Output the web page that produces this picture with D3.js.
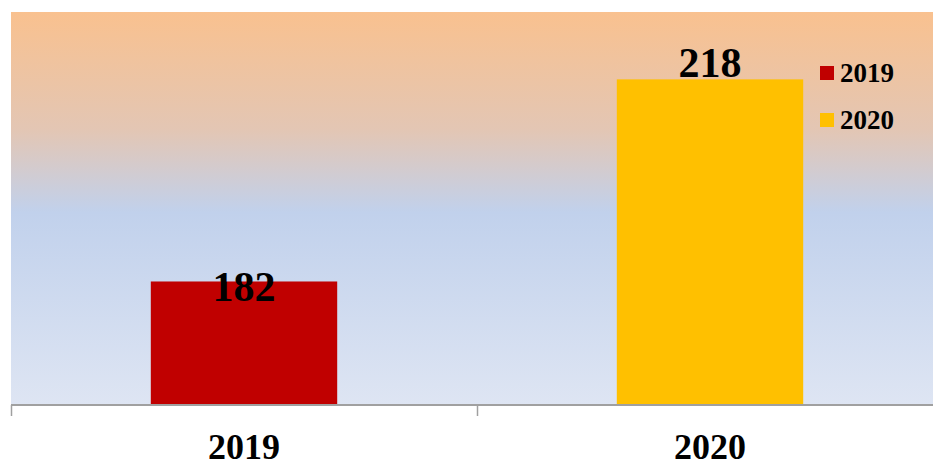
<!DOCTYPE html>
<html>
<head>
<meta charset="utf-8">
<script src="https://cdn.jsdelivr.net/npm/d3@7"></script>
<style>
  html, body { margin: 0; padding: 0; background: #fff; }
  svg { display: block; font-family: "Liberation Serif", "Times New Roman", serif; font-weight: bold; }
</style>
</head>
<body>
<div id="chart"></div>
<script>
const categories = ['2019', '2020'];
const values = [182, 218];
const seriesColors = ['#C00000', '#FFC000'];
const yDomain = [160, 230];

const width = 933, height = 461;
const plot = { left: 11, top: 12, right: 943, bottom: 405 };

const svg = d3.select('#chart').append('svg')
  .attr('width', width)
  .attr('height', height);

// background gradient of the plot area
const grad = svg.append('defs').append('linearGradient')
  .attr('id', 'bg')
  .attr('x1', 0).attr('y1', 0).attr('x2', 0).attr('y2', 1);
grad.append('stop').attr('offset', '0%').attr('stop-color', '#F9C18F');
grad.append('stop').attr('offset', '30%').attr('stop-color', '#E3C6B4');
grad.append('stop').attr('offset', '51%').attr('stop-color', '#C1D1EC');
grad.append('stop').attr('offset', '100%').attr('stop-color', '#DEE5F3');

svg.append('rect')
  .attr('x', plot.left)
  .attr('y', plot.top)
  .attr('width', width - plot.left)
  .attr('height', plot.bottom - plot.top)
  .attr('fill', 'url(#bg)');

const x = d3.scaleBand()
  .domain(categories)
  .range([plot.left, plot.right])
  .padding(0);

const y = d3.scaleLinear()
  .domain(yDomain)
  .range([plot.bottom, plot.top]);

const barW = x.bandwidth() * 0.4;

svg.selectAll('.bar')
  .data(values)
  .enter()
  .append('rect')
  .attr('class', 'bar')
  .attr('x', (d, i) => x(categories[i]) + (x.bandwidth() - barW) / 2)
  .attr('y', d => y(d))
  .attr('width', barW)
  .attr('height', d => y(yDomain[0]) - y(d))
  .attr('fill', (d, i) => seriesColors[i]);

// data labels (Excel put the first one inside the bar top)
const labelDy = [20, -2];
svg.selectAll('.val')
  .data(values)
  .enter()
  .append('text')
  .attr('class', 'val')
  .attr('x', (d, i) => x(categories[i]) + x.bandwidth() / 2)
  .attr('y', (d, i) => y(d) + labelDy[i])
  .attr('text-anchor', 'middle')
  .attr('font-size', 42)
  .attr('fill', '#000')
  .text(d => d);

// x axis
const axis = svg.append('g')
  .attr('transform', `translate(0,${plot.bottom})`)
  .call(d3.axisBottom(x).tickSize(0).tickFormat(''));
axis.select('.domain').remove();
axis.append('line')
  .attr('x1', plot.left).attr('x2', width)
  .attr('y1', 0).attr('y2', 0)
  .attr('stroke', '#A0A0A0').attr('stroke-width', 2);
axis.selectAll('.sep')
  .data(categories)
  .enter()
  .append('line')
  .attr('class', 'sep')
  .attr('x1', d => x(d) + 0.5).attr('x2', d => x(d) + 0.5)
  .attr('y1', 0).attr('y2', 11)
  .attr('stroke', '#A0A0A0').attr('stroke-width', 1.5);

svg.selectAll('.cat')
  .data(categories)
  .enter()
  .append('text')
  .attr('class', 'cat')
  .attr('x', d => x(d) + x.bandwidth() / 2)
  .attr('y', 459)
  .attr('text-anchor', 'middle')
  .attr('font-size', 36)
  .attr('fill', '#000')
  .text(d => d);

// legend
const legend = svg.append('g').attr('transform', 'translate(820,66)');
const item = legend.selectAll('g')
  .data(categories)
  .enter()
  .append('g')
  .attr('transform', (d, i) => `translate(0,${i * 47})`);
item.append('rect')
  .attr('width', 14).attr('height', 14)
  .attr('fill', (d, i) => seriesColors[i]);
item.append('text')
  .attr('x', 20).attr('y', 16)
  .attr('font-size', 27)
  .attr('fill', '#000')
  .text(d => d);
</script>
</body>
</html>
